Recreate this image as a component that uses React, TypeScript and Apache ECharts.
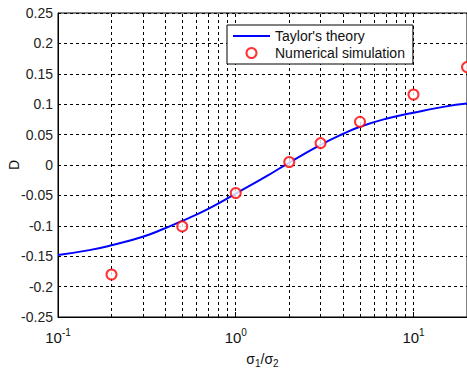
import React, { useEffect, useRef } from "react";
import * as echarts from "echarts";

const theoryX = [0.1, 0.15, 0.2, 0.3, 0.4, 0.5, 0.7, 1, 1.5, 2, 3, 4, 5, 7, 10, 15, 20];
const theoryY = [-0.148, -0.14, -0.132, -0.118, -0.104, -0.092, -0.072, -0.047, -0.018, 0.004, 0.033, 0.051, 0.063, 0.076, 0.086, 0.096, 0.101];
const simX = [0.2, 0.5, 1, 2, 3, 5, 10, 20];
const simY = [-0.18, -0.101, -0.046, 0.005, 0.036, 0.071, 0.116, 0.161];
const xGrid = [0.2, 0.3, 0.4, 0.5, 0.6, 0.7, 0.8, 0.9, 1, 2, 3, 4, 5, 6, 7, 8, 9, 10];
const decadeLabels: Record<string, string> = { "0.1": "-1", "1": "0", "10": "1" };

export default function App() {
  const ref = useRef<HTMLDivElement>(null);
  useEffect(() => {
    const chart = echarts.init(ref.current!, null, { renderer: "svg" });
    const font = "'Liberation Sans', Arial, sans-serif";
    chart.setOption({
      animation: false,
      grid: {
        left: 58, top: 13, right: 0, bottom: 55,
        outerBoundsMode: "none",
        containLabel: false,
        show: true, borderColor: "#000", borderWidth: 1, backgroundColor: "transparent",
      },
      legend: {
        orient: "vertical",
        left: 227,
        top: 25,
        backgroundColor: "#fff",
        borderColor: "#000",
        borderWidth: 1,
        borderRadius: 0,
        padding: [4, 8, 4, 6],
        itemGap: 3,
        itemWidth: 37,
        itemHeight: 10,
        textStyle: { fontFamily: font, fontSize: 14, color: "#111" },
        data: [
          { name: "Taylor's theory", icon: "path://M0,4L37,4L37,6L0,6Z", itemStyle: { color: "#0000ff", borderWidth: 0 } },
          { name: "Numerical simulation", icon: "emptyCircle" },
        ],
      },
      xAxis: {
        type: "log",
        logBase: 10,
        min: 0.1,
        max: 20,
        name: "{a|σ}{sub|1}{a|/σ}{sub|2}",
        nameLocation: "middle",
        nameGap: 35,
        nameMoveOverlap: false,
        nameTextStyle: {
          rich: {
            a: { fontFamily: font, fontSize: 14, color: "#111", verticalAlign: "top", lineHeight: 16 },
            sub: { fontFamily: font, fontSize: 10, color: "#111", verticalAlign: "bottom", lineHeight: 16, padding: [7, 0, 0, 0] },
          },
        },
        axisLine: { show: true, onZero: false, lineStyle: { color: "#000", width: 1 } },
        axisTick: { show: true, inside: true, length: 5, lineStyle: { color: "#000" } },
        splitLine: { show: false },
        axisLabel: {
          margin: 10,
          formatter: (v: number) => {
            const k = String(Math.round(v * 1000) / 1000);
            const e = decadeLabels[k];
            return e === undefined ? "" : "{b|10}{s|" + e + "}";
          },
          rich: {
            b: { fontFamily: font, fontSize: 15, color: "#111", verticalAlign: "bottom", lineHeight: 18 },
            s: { fontFamily: font, fontSize: 10, color: "#111", verticalAlign: "top", lineHeight: 18, padding: [0, 0, 8, 0] },
          },
        },
      },
      yAxis: {
        type: "value",
        min: -0.25,
        max: 0.25,
        interval: 0.05,
        name: "D",
        nameLocation: "middle",
        nameGap: 37,
        nameMoveOverlap: false,
        nameTextStyle: { fontFamily: font, fontSize: 14, color: "#111" },
        axisLine: { show: true, lineStyle: { color: "#000", width: 1 } },
        axisTick: { show: false },
        axisLabel: {
          margin: 5,
          fontFamily: font,
          fontSize: 14,
          color: "#222",
          formatter: (v: number) => String(Math.round(v * 100) / 100),
        },
        splitLine: { show: true, lineStyle: { color: "#000", width: 1, type: [3, 3] } },
      },
      series: [
        {
          name: "Taylor's theory",
          type: "line",
          data: theoryX.map((x, i) => [x, theoryY[i]]),
          smooth: true,
          showSymbol: false,
          symbol: "none",
          lineStyle: { color: "#0000ff", width: 2 },
          itemStyle: { color: "#0000ff" },
          z: 3,
          markLine: {
            silent: true,
            symbol: ["none", "none"],
            label: { show: false },
            lineStyle: { color: "#000", width: 1, type: [3, 3] },
            emphasis: { disabled: true },
            data: xGrid.map((x) => ({ xAxis: x })),
            z: 1,
          },
        },
        {
          name: "Numerical simulation",
          type: "scatter",
          data: simX.map((x, i) => [x, simY[i]]),
          symbol: "emptyCircle",
          symbolSize: 10,
          itemStyle: { color: "#ff0000", borderColor: "#ff0000", borderWidth: 1.5 },
          z: 4,
        },
      ],
    });
    return () => chart.dispose();
  }, []);
  return <div ref={ref} style={{ position: "fixed", left: 0, top: 0, width: 467, height: 372, background: "#fff" }} />;
}
